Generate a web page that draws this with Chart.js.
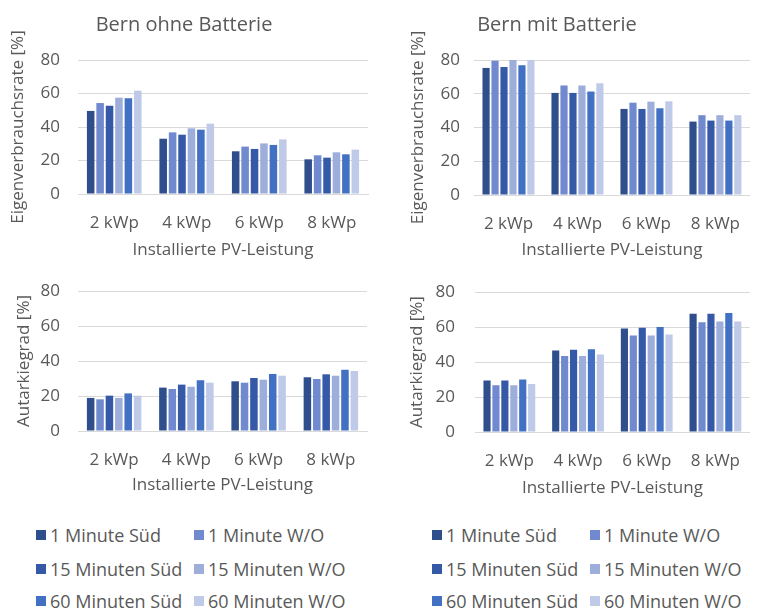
<!DOCTYPE html>
<html>
<head>
<meta charset="utf-8">
<script src="https://cdn.jsdelivr.net/npm/chart.js"></script>
<style>
  body { margin: 0; background: #fff; width: 759px; height: 610px; position: relative; overflow: hidden; font-family: 'Open Sans', sans-serif; }
  canvas { position: absolute; }
  .lg { position: absolute; font-size: 18px; color: #595959; white-space: nowrap; line-height: 20px; }
  .lg i { position: absolute; width: 10px; height: 10px; top: 5px; }
  .lg span { position: absolute; left: 14px; top: 0; }
</style>
</head>
<body>
<canvas id="c1" width="380" height="262" style="left:0;top:0"></canvas>
<canvas id="c2" width="404" height="262" style="left:355px;top:0"></canvas>
<canvas id="c3" width="380" height="240" style="left:0;top:262px"></canvas>
<canvas id="c4" width="404" height="240" style="left:355px;top:262px"></canvas>
<div id="legends"></div>
<script>
var categories = ['2 kWp', '4 kWp', '6 kWp', '8 kWp'];
var seriesNames = ['1 Minute Süd', '1 Minute W/O', '15 Minuten Süd', '15 Minuten W/O', '60 Minuten Süd', '60 Minuten W/O'];
var yTicks = [0, 20, 40, 60, 80];

// rows = series (same order as seriesNames), columns = categories
var evOhne = [
  [49.6, 33.0, 25.5, 20.7],
  [54.3, 36.8, 28.3, 23.1],
  [52.7, 35.4, 26.9, 21.7],
  [57.5, 39.2, 30.2, 24.9],
  [57.1, 38.4, 29.3, 23.7],
  [61.7, 42.0, 32.6, 26.5]
];
var evMit = [
  [75.3, 60.5, 51.0, 43.5],
  [79.6, 64.9, 54.7, 47.3],
  [75.9, 60.5, 51.0, 44.1],
  [80.0, 64.9, 55.3, 47.3],
  [76.9, 61.3, 51.4, 44.1],
  [80.4, 66.2, 55.5, 47.3]
];
var autOhne = [
  [18.9, 24.8, 28.4, 30.7],
  [18.1, 24.0, 27.6, 29.7],
  [20.2, 26.5, 30.3, 32.4],
  [18.9, 25.3, 29.3, 31.6],
  [21.5, 29.0, 32.6, 35.0],
  [20.2, 27.6, 31.6, 34.3]
];
var autMit = [
  [29.5, 46.7, 59.2, 67.7],
  [26.8, 43.5, 55.2, 62.8],
  [29.5, 47.1, 59.7, 67.7],
  [26.8, 43.5, 55.2, 63.3],
  [30.1, 47.4, 60.1, 68.1],
  [27.4, 44.4, 55.8, 63.3]
];

var seriesColors = ['#2E4E8C', '#7089CF', '#3559A7', '#9DAEDB', '#4270C2', '#BFCAE8'];

Chart.defaults.font.family = "'Open Sans', sans-serif";
Chart.defaults.color = '#595959';

function drawPanel(id_name, rows, cfg){
  var datasets = rows.map(function(vals, i){
    return {
      label: seriesNames[i],
      data: vals,
      backgroundColor: seriesColors[i],
      borderWidth: 0,
      barPercentage: 0.8,
      categoryPercentage: 0.78
    };
  });

  var ctx = document.getElementById(id_name).getContext('2d');
  var myChart = new Chart(ctx, {
    type: 'bar',
    data: {
      labels: categories,
      datasets: datasets
    },
    options: {
      responsive: false,
      animation: false,
      layout: {
        padding: {top: cfg.padTop, right: cfg.padRight, left: 0, bottom: 0}
      },
      scales: {
        x: {
          grid: {display: false, drawTicks: false},
          border: {color: '#D9D9D9'},
          ticks: {font: {size: 17}, padding: cfg.xTickPad},
          title: {
            display: true,
            text: 'Installierte PV-Leistung',
            font: {size: 17},
            padding: {top: 0, bottom: cfg.xTitlePad}
          },
          afterFit: function(s){ s.height = cfg.xHeight; }
        },
        y: {
          min: yTicks[0],
          max: yTicks[yTicks.length - 1],
          afterBuildTicks: function(s){
            s.ticks = yTicks.map(function(v){ return {value: v}; });
          },
          ticks: {font: {size: 17}, padding: cfg.yTickPad},
          grid: {color: '#D9D9D9', drawTicks: false},
          border: {display: false},
          title: {
            display: true,
            text: cfg.yTitle,
            font: {size: 17},
            padding: {top: cfg.yTitlePad, bottom: 0}
          },
          afterFit: function(s){ s.width = cfg.yWidth; }
        }
      },
      plugins: {
        legend: {display: false},
        tooltip: {enabled: false},
        title: {
          display: !!cfg.title,
          text: cfg.title,
          color: '#595959',
          font: {size: 20, weight: 'normal'},
          padding: {top: 13, bottom: 23}
        }
      }
    }
  });
  return myChart;
}

drawPanel('c1', evOhne, {
  title: 'Bern ohne Batterie', yTitle: 'Eigenverbrauchsrate [%]',
  padTop: 0, padRight: 12, yWidth: 78, yTitlePad: 7.8, yTickPad: 18,
  xHeight: 68, xTickPad: 19, xTitlePad: 1.8
});
drawPanel('c2', evMit, {
  title: 'Bern mit Batterie', yTitle: 'Eigenverbrauchsrate [%]',
  padTop: 0, padRight: 0, yWidth: 119, yTitlePad: 52.8, yTickPad: 14,
  xHeight: 67, xTickPad: 19, xTitlePad: 1.8
});
drawPanel('c3', autOhne, {
  title: '', yTitle: 'Autarkiegrad [%]',
  padTop: 29, padRight: 13, yWidth: 78, yTitlePad: 13.8, yTickPad: 18,
  xHeight: 71, xTickPad: 19, xTitlePad: 6.8
});
drawPanel('c4', autMit, {
  title: '', yTitle: 'Autarkiegrad [%]',
  padTop: 29, padRight: 0, yWidth: 120, yTitlePad: 51.5, yTickPad: 20,
  xHeight: 70, xTickPad: 19, xTitlePad: 3.8
});

// two legends below the bottom charts, 3 rows x 2 columns
function drawLegend(left, col2){
  var holder = document.getElementById('legends');
  var rowsY = [525, 559, 591];
  seriesNames.forEach(function(name, i){
    var d = document.createElement('div');
    d.className = 'lg';
    d.style.left = (i % 2 === 0 ? left : col2) + 'px';
    d.style.top = rowsY[Math.floor(i / 2)] + 'px';
    d.innerHTML = '<i style="background:' + seriesColors[i] + '"></i><span></span>';
    d.querySelector('span').textContent = name;
    holder.appendChild(d);
  });
}
drawLegend(36, 194);
drawLegend(432, 590);
</script>
</body>
</html>
